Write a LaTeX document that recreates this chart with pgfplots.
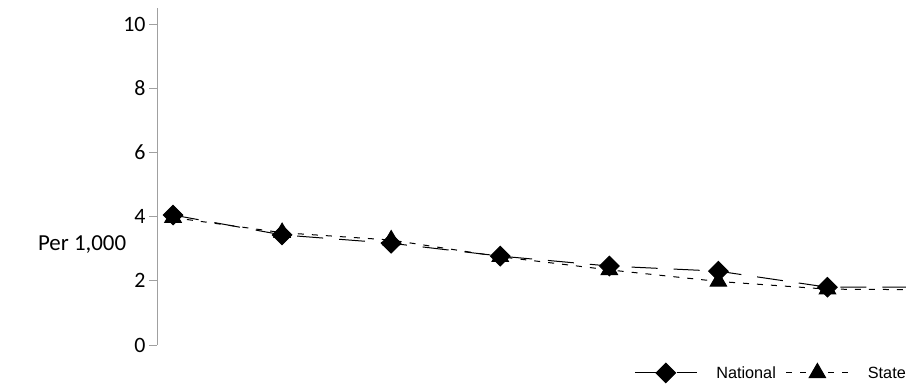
\documentclass[border=0pt]{standalone}
\usepackage{fontspec}
\setmainfont{Carlito}
\newfontfamily\legfont{Liberation Sans}
\usepackage{pgfplots}
\pgfplotsset{compat=1.18}
\definecolor{axgrey}{RGB}{160,160,160}
\begin{document}
\begin{tikzpicture}
\begin{axis}[
  name=ax,
  scale only axis,
  width=749bp, height=337bp,
  xmin=0.853, xmax=7.72,
  ymin=0, ymax=10.5,
  axis y line=left,
  axis x line=none,
  axis line style={-,draw=axgrey,line width=0.8bp},
  ytick={0,2,4,6,8,10},
  tick align=outside,
  major tick length=8bp,
  every tick/.style={draw=axgrey,line width=0.8bp},
  tick label style={font=\fontsize{22}{24}\selectfont},
  /pgf/number format/assume math mode=true,
  ylabel={Per 1,000},
  ylabel style={rotate=-90, font=\fontsize{23}{26}\selectfont, at={(axis description cs:-0.1,0.298)}, anchor=center},
  clip=true,
  legend style={at={(1,0)}, anchor=north east, yshift=-18bp, draw=none, fill=none,
     inner sep=0pt, font=\legfont\fontsize{16.3}{18}\selectfont,
     nodes={inner sep=0pt, text height=11.7bp, text depth=0pt},
     /tikz/every odd column/.append style={column sep=19bp},
     /tikz/every even column/.append style={column sep=10bp}},
  legend columns=-1,
  legend image code/.code={\draw[#1,mark indices={2}] plot coordinates {(0bp,0bp) (31bp,0bp) (62bp,0bp)};},
]
\addplot[black, line width=1bp, dash pattern=on 26bp off 16bp, mark=square*, mark size=6.9bp,
  mark options={solid, rotate=45, fill=black}, mark indices={1,2,3,4,5,6,7}]
  coordinates {(1,4.05) (2,3.43) (3,3.17) (4,2.77) (5,2.46) (6,2.3) (7,1.8) (8,1.8)};
\addlegendentry{National}
\addplot[black, line width=1bp, dash pattern=on 6bp off 8bp, mark=triangle*, mark size=9.5bp,
  mark options={solid, fill=black}, mark indices={1,2,3,4,5,6,7}]
  coordinates {(1,3.97) (2,3.5) (3,3.27) (4,2.75) (5,2.34) (6,1.98) (7,1.74) (8,1.72)};
\addlegendentry{State}
\end{axis}
\path[use as bounding box] ([xshift=-157bp,yshift=-41bp]ax.south west) rectangle ([yshift=8bp]ax.north east);
\end{tikzpicture}
\end{document}
